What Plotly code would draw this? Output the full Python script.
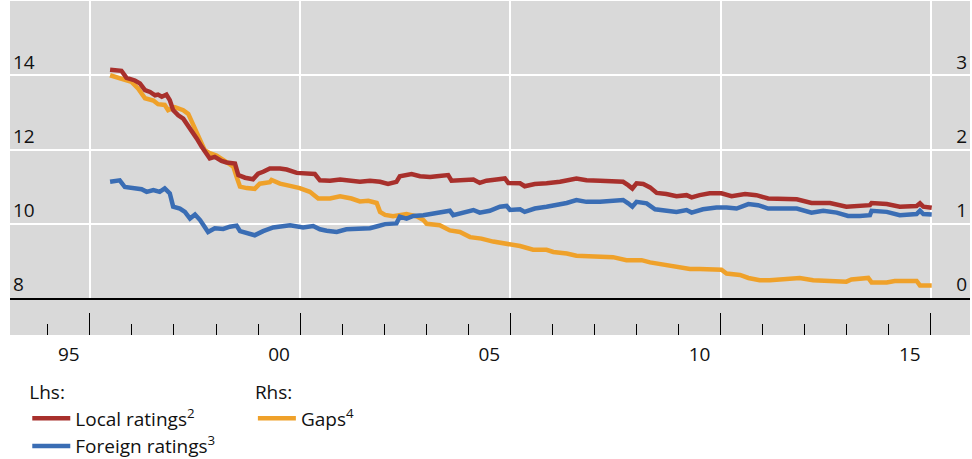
import plotly.graph_objects as go

# ---------------- data (decimal years) ----------------
local_x = [1996.48, 1996.75, 1996.87, 1997.07, 1997.19, 1997.31, 1997.43, 1997.55, 1997.62, 1997.71,
           1997.82, 1997.90, 1997.98, 1998.10, 1998.22, 1998.34, 1998.46, 1998.54, 1998.66, 1998.78,
           1998.85, 1998.97, 1999.13, 1999.25, 1999.45, 1999.53, 1999.69, 1999.88, 2000.00, 2000.12,
           2000.28, 2000.52, 2000.68, 2000.92, 2001.15, 2001.35, 2001.47, 2001.71, 2001.95, 2002.18,
           2002.42, 2002.66, 2002.90, 2003.09, 2003.29, 2003.37, 2003.65, 2003.85, 2004.09, 2004.25,
           2004.52, 2004.60, 2004.88, 2005.12, 2005.27, 2005.43, 2005.67, 2005.87, 2005.95, 2006.23,
           2006.34, 2006.58, 2006.86, 2007.18, 2007.57, 2007.81, 2008.13, 2008.68, 2008.80, 2008.90,
           2009.00, 2009.16, 2009.32, 2009.48, 2009.71, 2009.95, 2010.19, 2010.31, 2010.50, 2010.74,
           2011.02, 2011.26, 2011.58, 2011.85, 2012.13, 2012.41, 2012.81, 2013.16, 2013.60, 2013.99,
           2014.31, 2014.55, 2014.59, 2014.95, 2015.26, 2015.66, 2015.74, 2015.82, 2016.02]
local_y = [14.15, 14.12, 13.93, 13.86, 13.78, 13.60, 13.55, 13.46, 13.48, 13.42,
           13.48, 13.33, 13.06, 12.92, 12.83, 12.65, 12.43, 12.30, 12.07, 11.85,
           11.76, 11.80, 11.69, 11.65, 11.62, 11.31, 11.24, 11.20, 11.35, 11.40,
           11.49, 11.49, 11.46, 11.37, 11.34, 11.34, 11.17, 11.16, 11.19, 11.17,
           11.13, 11.16, 11.13, 11.07, 11.13, 11.28, 11.34, 11.28, 11.26, 11.28,
           11.31, 11.16, 11.17, 11.19, 11.10, 11.16, 11.19, 11.22, 11.10, 11.09,
           11.01, 11.07, 11.09, 11.13, 11.22, 11.17, 11.16, 11.13, 11.04, 10.95,
           11.09, 11.07, 10.98, 10.83, 10.80, 10.74, 10.77, 10.71, 10.77, 10.82,
           10.82, 10.74, 10.80, 10.77, 10.68, 10.68, 10.66, 10.56, 10.56, 10.46,
           10.48, 10.50, 10.56, 10.53, 10.46, 10.48, 10.55, 10.46, 10.43]

foreign_x = [1996.48, 1996.71, 1996.83, 1997.07, 1997.23, 1997.35, 1997.51, 1997.66, 1997.78, 1997.90,
             1997.98, 1998.14, 1998.26, 1998.38, 1998.50, 1998.62, 1998.73, 1998.81, 1998.97, 1999.17,
             1999.33, 1999.49, 1999.57, 1999.80, 1999.92, 2000.12, 2000.28, 2000.36, 2000.76, 2001.07,
             2001.31, 2001.47, 2001.63, 2001.87, 2002.10, 2002.38, 2002.66, 2002.86, 2003.02, 2003.29,
             2003.37, 2003.53, 2003.69, 2003.93, 2004.09, 2004.40, 2004.56, 2004.64, 2004.88, 2005.12,
             2005.27, 2005.51, 2005.75, 2005.91, 2005.99, 2006.23, 2006.34, 2006.58, 2006.86, 2007.10,
             2007.34, 2007.57, 2007.81, 2008.13, 2008.68, 2008.80, 2008.90, 2009.00, 2009.24, 2009.44,
             2009.71, 2009.95, 2010.19, 2010.31, 2010.58, 2010.90, 2011.14, 2011.38, 2011.66, 2011.89,
             2012.13, 2012.41, 2012.81, 2013.16, 2013.44, 2013.76, 2014.03, 2014.31, 2014.55, 2014.59,
             2014.95, 2015.26, 2015.66, 2015.74, 2015.82, 2016.02]
foreign_y = [11.13, 11.17, 10.99, 10.97, 10.93, 10.86, 10.91, 10.86, 10.95, 10.82,
             10.46, 10.41, 10.32, 10.14, 10.25, 10.10, 9.92, 9.78, 9.88, 9.86,
             9.92, 9.95, 9.80, 9.74, 9.69, 9.80, 9.86, 9.90, 9.96, 9.90,
             9.94, 9.85, 9.81, 9.78, 9.85, 9.88, 9.88, 9.94, 9.99, 10.01,
             10.19, 10.14, 10.21, 10.23, 10.26, 10.30, 10.35, 10.23, 10.30, 10.37,
             10.30, 10.35, 10.46, 10.48, 10.37, 10.39, 10.32, 10.41, 10.46, 10.50,
             10.56, 10.64, 10.59, 10.59, 10.64, 10.55, 10.46, 10.59, 10.55, 10.39,
             10.35, 10.32, 10.37, 10.30, 10.39, 10.44, 10.44, 10.41, 10.53, 10.50,
             10.41, 10.41, 10.41, 10.30, 10.35, 10.30, 10.21, 10.21, 10.23, 10.35,
             10.32, 10.23, 10.26, 10.35, 10.26, 10.25]

gaps_x = [1996.48, 1996.75, 1996.99, 1997.15, 1997.31, 1997.51, 1997.62, 1997.78, 1997.86, 1998.02,
          1998.22, 1998.34, 1998.46, 1998.58, 1998.73, 1998.85, 1999.01, 1999.25, 1999.41, 1999.49,
          1999.57, 1999.73, 1999.92, 2000.04, 2000.28, 2000.32, 2000.52, 2000.76, 2000.99, 2001.23,
          2001.43, 2001.71, 2001.95, 2002.22, 2002.42, 2002.62, 2002.82, 2002.90, 2003.02, 2003.21,
          2003.53, 2003.77, 2003.93, 2004.01, 2004.32, 2004.56, 2004.80, 2005.04, 2005.31, 2005.59,
          2005.91, 2006.23, 2006.54, 2006.86, 2007.02, 2007.34, 2007.57, 2008.13, 2008.44, 2008.76,
          2009.12, 2009.32, 2009.71, 2009.95, 2010.27, 2010.50, 2011.02, 2011.14, 2011.46, 2011.66,
          2011.93, 2012.17, 2012.41, 2012.88, 2013.20, 2013.60, 2013.99, 2014.11, 2014.51, 2014.59,
          2014.95, 2015.14, 2015.66, 2015.74, 2016.02]
gaps_y = [3.00, 2.95, 2.91, 2.82, 2.69, 2.66, 2.61, 2.60, 2.53, 2.57,
          2.53, 2.48, 2.33, 2.15, 1.99, 1.95, 1.92, 1.83, 1.77, 1.63,
          1.50, 1.48, 1.47, 1.54, 1.56, 1.59, 1.54, 1.51, 1.48, 1.43,
          1.34, 1.34, 1.37, 1.34, 1.30, 1.31, 1.28, 1.16, 1.12, 1.10,
          1.13, 1.10, 1.05, 1.00, 0.98, 0.91, 0.89, 0.82, 0.80, 0.76,
          0.73, 0.70, 0.65, 0.65, 0.62, 0.60, 0.57, 0.55, 0.55, 0.51,
          0.51, 0.48, 0.44, 0.41, 0.39, 0.39, 0.38, 0.33, 0.31, 0.27,
          0.24, 0.24, 0.25, 0.27, 0.24, 0.23, 0.22, 0.25, 0.27, 0.21,
          0.21, 0.23, 0.23, 0.17, 0.17]

lhs_ticks = [8, 10, 12, 14]
rhs_ticks = [0, 1, 2, 3]
major_years = [1996, 2001, 2006, 2011, 2016]
minor_years = list(range(1995, 2017))
label_pos = [1995.5, 2000.5, 2005.5, 2010.5, 2015.5]
label_text = ["95", "00", "05", "10", "15"]

# ---------------- styling ----------------
FONT = "Open Sans"
RED = "#A8302C"
BLUE = "#3A6DB4"
ORANGE = "#EFA12A"
BG = "#D9D9D9"
XR = [1994.10, 2016.93]
SPLIT = 37 / 334
LW = 4.5

fig = go.Figure()

# Gaps on the base (right-hand) axis so rating lines draw on top
fig.add_trace(go.Scatter(x=gaps_x, y=gaps_y, mode="lines", name="Gaps<sup>4</sup>",
                         line=dict(color=ORANGE, width=LW), xaxis="x", yaxis="y",
                         legend="legend2"))
fig.add_trace(go.Scatter(x=foreign_x, y=foreign_y, mode="lines", name="Foreign ratings<sup>3</sup>",
                         line=dict(color=BLUE, width=LW), xaxis="x", yaxis="y2",
                         legend="legend", legendrank=2))
fig.add_trace(go.Scatter(x=local_x, y=local_y, mode="lines", name="Local ratings<sup>2</sup>",
                         line=dict(color=RED, width=LW), xaxis="x", yaxis="y2",
                         legend="legend", legendrank=1))
# invisible anchors so the tick band subplot is created
fig.add_trace(go.Scatter(x=[XR[0]], y=[0.5], mode="markers", marker=dict(opacity=0),
                         xaxis="x2", yaxis="y3", showlegend=False, hoverinfo="skip"))
fig.add_trace(go.Scatter(x=[XR[0]], y=[0.5], mode="markers", marker=dict(opacity=0),
                         xaxis="x3", yaxis="y3", showlegend=False, hoverinfo="skip"))

tick_font = dict(family=FONT, size=19, color="#111111")
leg_font = dict(family=FONT, size=19, color="#111111")

fig.update_layout(
    width=972, height=459,
    margin=dict(l=10, r=2, t=1, b=124, autoexpand=False),
    paper_bgcolor="white", plot_bgcolor=BG,
    font=dict(family=FONT, size=19, color="#111111"),
    xaxis=dict(domain=[0, 1], range=XR, anchor="y", tickvals=major_years,
               showticklabels=False, ticks="", showgrid=True, gridcolor="white", gridwidth=2,
               showline=True, linecolor="black", linewidth=1.5, zeroline=False, automargin=False),
    yaxis=dict(domain=[SPLIT, 1], range=[0, 4], side="right", tickvals=rhs_ticks,
               ticklabelposition="inside top", tickfont=tick_font, ticks="",
               showgrid=True, gridcolor="white", gridwidth=2, zeroline=False, anchor="x",
               automargin=False),
    yaxis2=dict(overlaying="y", range=[8, 16], side="left", tickvals=lhs_ticks,
                ticklabelposition="inside top", tickfont=tick_font, ticks="",
                showgrid=False, zeroline=False, anchor="x", automargin=False),
    xaxis2=dict(domain=[0, 1], range=XR, anchor="y3", tickvals=major_years,
                ticks="inside", ticklen=22, tickwidth=1.3, tickcolor="black",
                showticklabels=False, showgrid=False, zeroline=False, automargin=False,
                minor=dict(tickvals=minor_years, ticks="inside", ticklen=11,
                           tickwidth=1.3, tickcolor="black", showgrid=False)),
    xaxis3=dict(overlaying="x2", anchor="y3", side="bottom", range=XR,
                tickvals=label_pos, ticktext=label_text, tickfont=tick_font,
                ticks="outside", ticklen=2, tickcolor="rgba(0,0,0,0)",
                showgrid=False, zeroline=False, automargin=False),
    yaxis3=dict(domain=[0, SPLIT], range=[0, 1], showticklabels=False, ticks="",
                showgrid=False, zeroline=False, showline=False, anchor="x2", automargin=False),
    legend=dict(x=0.018, y=-0.119, xanchor="left", yanchor="top",
                title=dict(text="Lhs:", side="top", font=leg_font),
                font=leg_font, bgcolor="rgba(0,0,0,0)",
                tracegroupgap=0, itemwidth=38),
    legend2=dict(x=0.253, y=-0.119, xanchor="left", yanchor="top",
                 title=dict(text="Rhs:", side="top", font=leg_font),
                 font=leg_font, bgcolor="rgba(0,0,0,0)",
                 tracegroupgap=0, itemwidth=38),
    showlegend=True,
)

fig.write_html("out.html", config={"displayModeBar": False},
               post_script="document.body.style.margin='0px';")
